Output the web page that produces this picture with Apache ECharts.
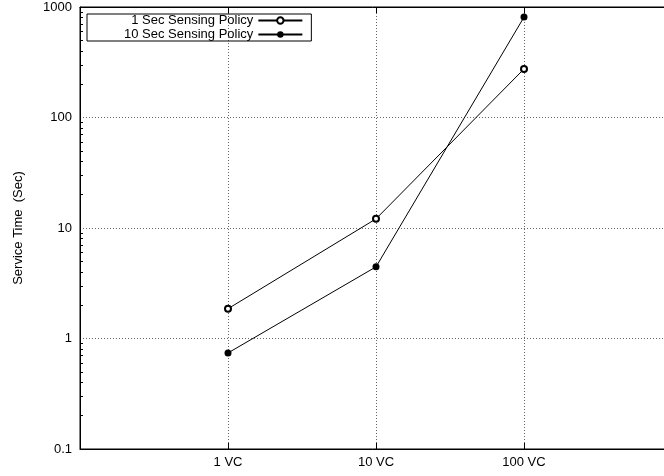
<!DOCTYPE html>
<html>
<head>
<meta charset="utf-8">
<script src="https://cdn.jsdelivr.net/npm/echarts@6/dist/echarts.min.js"></script>
<style>html,body{margin:0;padding:0;background:#fff}#c{width:664px;height:476px}</style>
</head>
<body>
<div id="c"></div>
<script>
const categories = ['1 VC', '10 VC', '100 VC'];
const seriesNames = ['1 Sec Sensing Policy', '10 Sec Sensing Policy'];
const oneSecValues = [1.86, 12.1, 275];
const tenSecValues = [0.74, 4.45, 810];
const yTickValues = [0.1, 1, 10, 100, 1000];
const yMinorTickValues = [0.2,0.3,0.4,0.5,0.6,0.7,0.8,0.9,2,3,4,5,6,7,8,9,20,30,40,50,60,70,80,90,200,300,400,500,600,700,800,900];
const yAxisTitle = 'Service Time  (Sec)';

const FONT = '"Liberation Sans", Arial, Helvetica, sans-serif';
const xData = [''].concat(categories, ['']);
const pad = arr => [null].concat(arr, [null]);

const chart = echarts.init(document.getElementById('c'), null, {renderer: 'canvas'});
const gridLine = {show: true, lineStyle: {color: '#666', width: 1, type: [1, 2]}};
chart.setOption({
  animation: false,
  backgroundColor: '#fff',
  grid: {left: 80, top: 7, right: -8, bottom: 27, containLabel: false, outerBoundsMode: 'none',
    show: true, borderColor: '#000', borderWidth: 1},
  legend: {
    left: 87, top: 14, orient: 'vertical', align: 'right',
    itemWidth: 44, itemHeight: 8, itemGap: 1,
    padding: [0, 8, 0, 37], borderColor: '#000', borderWidth: 1, borderRadius: 0,
    textStyle: {fontSize: 13, lineHeight: 13, color: '#000', fontFamily: FONT},
    data: seriesNames
  },
  xAxis: [{
    type: 'category', data: xData, boundaryGap: false,
    axisLine: {lineStyle: {color: '#000', width: 1}},
    axisTick: {inside: true, length: 6, lineStyle: {color: '#000'}, interval: (i, v) => v !== ''},
    axisLabel: {fontSize: 13, color: '#000', fontFamily: FONT, margin: 7, interval: 0},
    splitLine: Object.assign({}, gridLine, {interval: (i, v) => v !== ''})
  }, {
    type: 'category', data: xData, boundaryGap: false, position: 'top',
    axisLine: {lineStyle: {color: '#000', width: 1}},
    axisTick: {inside: true, length: 6, lineStyle: {color: '#000'}, interval: (i, v) => v !== ''},
    axisLabel: {show: false}, splitLine: {show: false}
  }],
  yAxis: [{
    type: 'log', logBase: 10, min: yTickValues[0], max: yTickValues[yTickValues.length - 1],
    name: yAxisTitle, nameLocation: 'middle', nameGap: 55, nameMoveOverlap: false,
    nameTextStyle: {fontSize: 13, color: '#000', fontFamily: FONT},
    axisLine: {show: true, lineStyle: {color: '#000', width: 1}},
    axisTick: {inside: true, length: 6, lineStyle: {color: '#000'}},
    axisLabel: {fontSize: 13, color: '#000', fontFamily: FONT, margin: 8,
      formatter: v => String(Number(v.toPrecision(3)))},
    splitLine: gridLine
  }, {
    type: 'log', logBase: 10, min: yTickValues[0], max: yTickValues[yTickValues.length - 1],
    position: 'left',
    axisLine: {show: false},
    axisTick: {show: true, inside: true, length: 3, lineStyle: {color: '#000'}, customValues: yMinorTickValues},
    axisLabel: {show: false}, splitLine: {show: false}
  }],
  series: [{
    name: seriesNames[0], type: 'line', data: pad(oneSecValues),
    symbol: 'emptyCircle', symbolSize: 6, showAllSymbol: true,
    lineStyle: {color: '#000', width: 1}, itemStyle: {color: '#000', borderColor: '#000', borderWidth: 1}
  }, {
    name: seriesNames[1], type: 'line', data: pad(tenSecValues),
    symbol: 'circle', symbolSize: 7, showAllSymbol: true,
    lineStyle: {color: '#000', width: 1}, itemStyle: {color: '#000'}
  }]
});
</script>
</body>
</html>
